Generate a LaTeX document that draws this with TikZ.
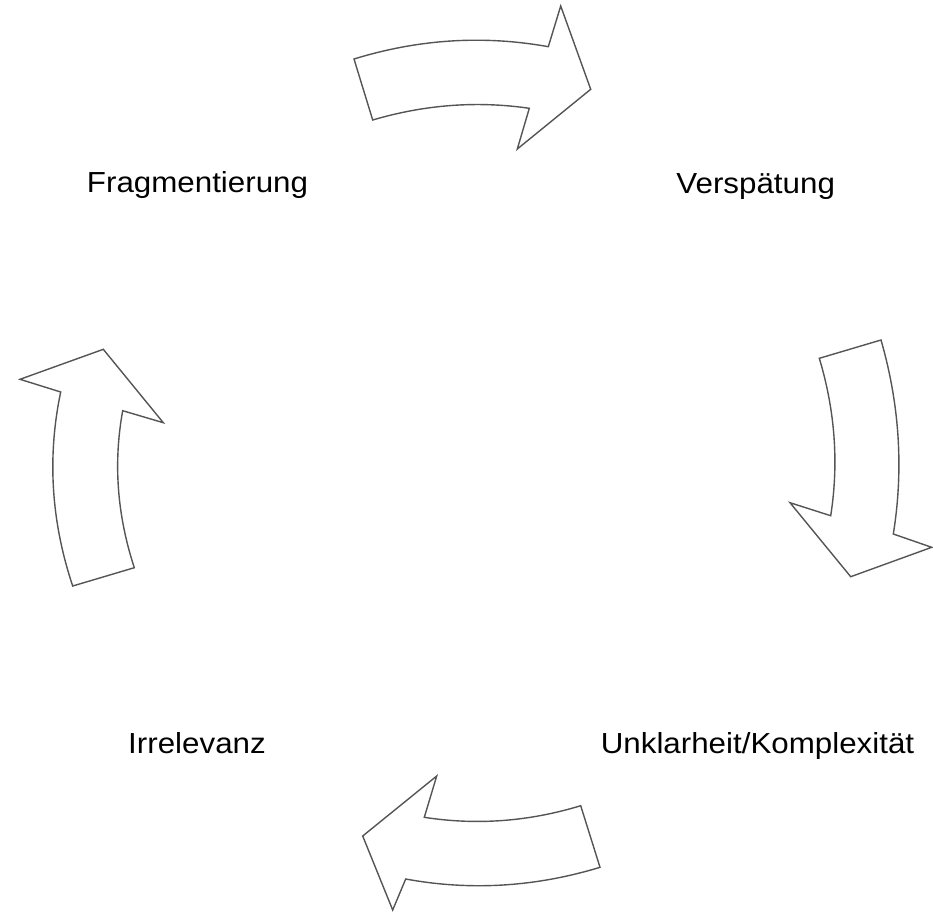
\documentclass[tikz,border=0pt]{standalone}
\usepackage{fontspec}
\setmainfont{Liberation Sans}
\newfontfamily\lblfont[FakeStretch=1.08]{Liberation Sans}
\definecolor{edge}{HTML}{555555}
\tikzset{
  bigarrow/.style={draw=edge, line width=1.4pt, fill=white, line join=miter},
  lbl/.style={anchor=base, inner sep=0pt, font=\lblfont\fontsize{29}{34}\selectfont, text=black}
}
\begin{document}
\begin{tikzpicture}[x=1pt,y=-1pt]
\useasboundingbox (0,0) rectangle (933,921);
% top arrow (pointing right)
\draw[bigarrow] (354,59) .. controls (418.6,39.1) and (483.3,35.0) .. (548.3,46.7) -- (560.7,6) -- (590.7,89.3) -- (517.3,149) -- (529.3,108.3)
  .. controls (477.1,100.7) and (424.9,104.6) .. (372.7,120) -- cycle;
% right arrow (pointing down)
\draw[bigarrow] (881,340) .. controls (899.6,404.7) and (903.7,469.3) .. (893.3,534) -- (931.7,547.3) -- (850.7,576.7) -- (790,502.7) -- (830.7,515.7)
  .. controls (838.9,463.2) and (835.1,410.8) .. (819.3,358.3) -- cycle;
% bottom arrow (pointing left)
\draw[bigarrow] (580.7,805.7) .. controls (528.6,821.6) and (476.4,825.4) .. (424.3,817.3) -- (436.7,776) -- (362.7,836) -- (392.7,910) -- (405.7,879)
  .. controls (470.5,890.9) and (535.3,887.0) .. (600,867.3) -- cycle;
% left arrow (pointing up)
\draw[bigarrow] (72.7,586) .. controls (51.1,521.3) and (47.1,456.7) .. (60.7,392) -- (20,379.3) -- (103.3,349.3) -- (163.3,422.7) -- (122.7,410.7)
  .. controls (113.2,462.8) and (117.1,515.1) .. (134.3,567.7) -- cycle;
% labels
\node[lbl] (frag) at (197.5,192.3) {Fragmentierung};
\node[lbl] (versp) at (755.7,193.3) {Verspätung};
\node[lbl] (irr) at (197,753.3) {Irrelevanz};
\node[lbl] (unkl) at (757.5,753.3) {Unklarheit/Komplexität};
\end{tikzpicture}
\end{document}
